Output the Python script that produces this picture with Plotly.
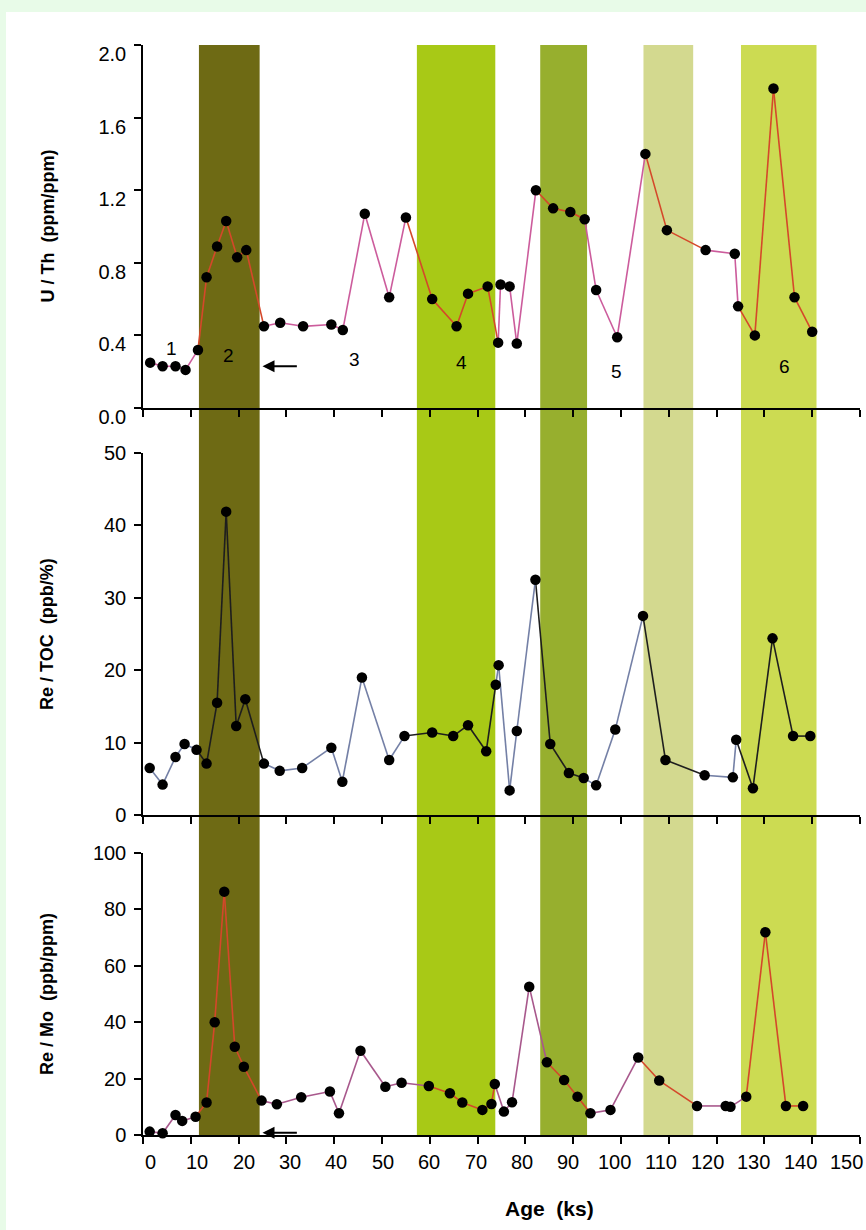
import plotly.graph_objects as go

# ---------------- data ----------------
age_uth = [1.5, 4.1, 6.8, 8.9, 11.5, 13.3, 15.5, 17.4, 19.7, 21.6, 25.3, 28.7, 33.5, 39.4, 41.8,
           46.4, 51.5, 55.0, 60.5, 65.6, 68.0, 72.1, 74.3, 74.8, 76.7, 78.2, 82.2, 85.8, 89.4,
           92.4, 94.8, 99.2, 105.1, 109.6, 117.7, 123.8, 124.5, 128.0, 131.9, 136.3, 140.0]
uth = [0.25, 0.23, 0.23, 0.21, 0.32, 0.72, 0.89, 1.03, 0.83, 0.87, 0.45, 0.47, 0.45, 0.46, 0.43,
       1.07, 0.61, 1.05, 0.60, 0.45, 0.63, 0.67, 0.36, 0.68, 0.67, 0.355, 1.20, 1.10, 1.08,
       1.04, 0.65, 0.39, 1.40, 0.98, 0.87, 0.85, 0.56, 0.40, 1.76, 0.61, 0.42]

age_retoc = [1.4, 4.1, 6.8, 8.7, 11.2, 13.3, 15.5, 17.4, 19.5, 21.4, 25.3, 28.6, 33.3, 39.4, 41.7,
             45.8, 51.5, 54.7, 60.5, 64.9, 68.0, 71.8, 73.8, 74.4, 76.7, 78.2, 82.1, 85.2, 89.1,
             92.2, 94.8, 98.8, 104.6, 109.3, 117.5, 123.4, 124.1, 127.6, 131.7, 136.0, 139.6]
retoc = [6.5, 4.2, 8.0, 9.8, 9.0, 7.1, 15.5, 41.9, 12.3, 16.0, 7.1, 6.1, 6.5, 9.3, 4.6,
         19.0, 7.6, 10.9, 11.4, 10.9, 12.4, 8.8, 18.0, 20.7, 3.4, 11.6, 32.5, 9.8, 5.8,
         5.1, 4.1, 11.8, 27.5, 7.6, 5.5, 5.2, 10.4, 3.7, 24.4, 10.9, 10.9]

age_remo = [1.4, 4.1, 6.8, 8.2, 11.0, 13.3, 15.0, 17.0, 19.2, 21.1, 24.8, 28.0, 33.1, 39.1, 41.0,
            45.5, 50.7, 54.1, 59.8, 64.2, 66.8, 71.0, 72.9, 73.6, 75.5, 77.2, 80.8, 84.5, 88.1,
            90.9, 93.6, 97.8, 103.6, 108.0, 115.9, 121.9, 122.9, 126.2, 130.2, 134.5, 138.1]
remo = [1.2, 0.6, 7.1, 5.0, 6.5, 11.5, 40.0, 86.3, 31.3, 24.2, 12.2, 10.9, 13.4, 15.4, 7.7,
        29.9, 17.1, 18.5, 17.4, 14.8, 11.5, 8.9, 11.0, 18.1, 8.3, 11.6, 52.6, 25.8, 19.5,
        13.6, 7.7, 8.9, 27.5, 19.3, 10.3, 10.3, 10.0, 13.6, 71.9, 10.3, 10.3]

band_start = [11.7, 57.3, 83.1, 104.7, 125.1]
band_end = [24.4, 73.7, 92.9, 115.1, 140.9]
band_colors = ["#6e6a14", "#a8c916", "#97af2e", "#d3d98f", "#ccdb52"]

x_tickvals = list(range(0, 151, 10))
zone_labels = ["1", "2", "3", "4", "5", "6"]
zone_x = [6.0, 17.9, 44.3, 66.6, 99.1, 134.2]
zone_y = [0.33, 0.29, 0.27, 0.25, 0.20, 0.23]

# ---------------- layout helpers ----------------
FONT = "Liberation Sans, Arial, sans-serif"
W, H = 866, 1230
ML, MR, MT, MB = 143, 6, 45, 95
plot_h = H - MT - MB


def py2paper(py):
    return (H - MB - py) / plot_h


def px2paper(px):
    return (px - ML) / (W - ML - MR)


dom_top = [py2paper(408), 1.0]
dom_mid = [py2paper(815), py2paper(453)]
dom_bot = [0.0, py2paper(853)]


def in_band(x):
    return any(s <= x <= e for s, e in zip(band_start, band_end))


def segment_traces(xs, ys, xa, ya, c_in, c_out):
    seg = {c_in: ([], []), c_out: ([], [])}
    for i in range(len(xs) - 1):
        mid = 0.5 * (xs[i] + xs[i + 1])
        c = c_in if in_band(mid) else c_out
        seg[c][0].extend([xs[i], xs[i + 1], None])
        seg[c][1].extend([ys[i], ys[i + 1], None])
    out = []
    for c, (sx, sy) in seg.items():
        out.append(go.Scatter(x=sx, y=sy, mode="lines", xaxis=xa, yaxis=ya,
                              line=dict(color=c, width=1.6), hoverinfo="skip",
                              showlegend=False, cliponaxis=False))
    out.append(go.Scatter(x=xs, y=ys, mode="markers", xaxis=xa, yaxis=ya,
                          marker=dict(color="black", size=10.5), showlegend=False,
                          cliponaxis=False))
    return out


fig = go.Figure()
for t in segment_traces(age_uth, uth, "x", "y", "#d5482a", "#cc5c9c"):
    fig.add_trace(t)
for t in segment_traces(age_retoc, retoc, "x2", "y2", "#1e1e1e", "#7480a6"):
    fig.add_trace(t)
for t in segment_traces(age_remo, remo, "x3", "y3", "#d4472a", "#a8588c"):
    fig.add_trace(t)

shapes = [dict(type="rect", xref="paper", yref="paper",
               x0=px2paper(6), x1=1.05, y0=-0.2, y1=py2paper(12),
               fillcolor="white", line=dict(width=0), layer="below")]
for s, e, c in zip(band_start, band_end, band_colors):
    shapes.append(dict(type="rect", xref="x3", yref="paper", x0=s, x1=e, y0=0, y1=1,
                       fillcolor=c, line=dict(width=0), layer="below"))

axis_common = dict(showline=True, linecolor="black", linewidth=1.5, ticks="outside",
                   tickcolor="black", tickwidth=1.5, showgrid=False, zeroline=False,
                   tickfont=dict(family=FONT, size=20, color="black"))

xcommon = dict(axis_common, range=[0, 150], tickvals=x_tickvals, ticklen=7,
               showticklabels=False)
ycommon = dict(axis_common, ticklen=7, ticklabelstandoff=4)

annotations = []
# bottom x tick labels (the original's labels are spaced slightly tighter than the ticks)
for v in x_tickvals:
    annotations.append(dict(x=v, y=0, xref="x3", yref="y3", text=str(v), showarrow=False,
                            xanchor="center", yanchor="top", yshift=-14,
                            xshift=7.7 - 0.14 * v,
                            font=dict(family=FONT, size=20, color="black")))
for lab, xx, yy in zip(zone_labels, zone_x, zone_y):
    annotations.append(dict(x=xx, y=yy, xref="x", yref="y", text=lab, showarrow=False,
                            font=dict(family=FONT, size=19, color="black")))
# arrows
annotations.append(dict(x=25.0, y=0.23, ax=32.5, ay=0.23, xref="x", yref="y",
                        axref="x", ayref="y", text="", showarrow=True, arrowhead=2,
                        arrowsize=1.2, arrowwidth=2, arrowcolor="black"))
annotations.append(dict(x=25.0, y=0.8, ax=32.5, ay=0.8, xref="x3", yref="y3",
                        axref="x3", ayref="y3", text="", showarrow=True, arrowhead=2,
                        arrowsize=1.2, arrowwidth=2, arrowcolor="black"))
# y titles
ytitles = ["U / Th&nbsp; (ppm/ppm)", "Re / TOC&nbsp; (ppb/%)", "Re / Mo&nbsp; (ppb/ppm)"]
for txt, dom in zip(ytitles, [dom_top, dom_mid, dom_bot]):
    annotations.append(dict(x=px2paper(47), y=0.5 * (dom[0] + dom[1]), xref="paper",
                            yref="paper", text="<b>" + txt + "</b>", textangle=-90,
                            showarrow=False, xanchor="center", yanchor="middle",
                            font=dict(family=FONT, size=18, color="black")))
annotations.append(dict(x=px2paper(549), y=py2paper(1208), xref="paper", yref="paper",
                        text="<b>Age&nbsp; (ks)</b>", showarrow=False, xanchor="center",
                        yanchor="middle", font=dict(family=FONT, size=21, color="black")))

fig.update_layout(
    width=W, height=H,
    margin=dict(l=ML, r=MR, t=MT, b=MB),
    paper_bgcolor="#e8fbe8", plot_bgcolor="rgba(0,0,0,0)",
    showlegend=False,
    shapes=shapes,
    annotations=annotations,
    xaxis=dict(xcommon, domain=[0, 1], anchor="y"),
    xaxis2=dict(xcommon, domain=[0, 1], anchor="y2"),
    xaxis3=dict(xcommon, domain=[0, 1], anchor="y3"),
    yaxis=dict(ycommon, domain=dom_top, anchor="x", range=[0, 2.0],
               tickvals=[0, 0.4, 0.8, 1.2, 1.6, 2.0], tickformat=".1f",
               ticklabelshift=9),
    yaxis2=dict(ycommon, domain=dom_mid, anchor="x2", range=[0, 50],
                tickvals=[0, 10, 20, 30, 40, 50]),
    yaxis3=dict(ycommon, domain=dom_bot, anchor="x3", range=[0, 100],
                tickvals=[0, 20, 40, 60, 80, 100]),
)

fig.write_html("out.html", config={"displayModeBar": False},
               post_script="document.body.style.margin='0px';")
